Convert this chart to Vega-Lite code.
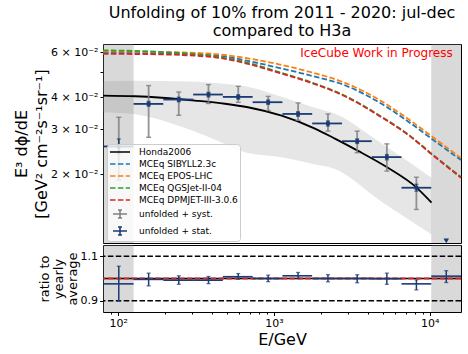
{
"$schema":"https://vega.github.io/schema/vega-lite/v6.json",
"background":"white",
"padding":{"left":12,"top":4,"right":7,"bottom":4},
"spacing":0,
"config":{
 "font":"DejaVu Sans",
 "view":{"stroke":"#000000","strokeWidth":1},
 "axis":{"labelFont":"DejaVu Sans","titleFont":"DejaVu Sans","labelFontSize":11,"titleFontSize":16,"titleFontWeight":"normal","labelColor":"#000000","titleColor":"#000000","tickColor":"#000000","tickWidth":1,"domain":false,"grid":false,"labelPadding":2}
},
"datasets":{
 "shade":[{"a":80,"b":125.7},{"a":10210,"b":15850}],
 "band":[
  {"E":80,"lo":0.03495,"hi":0.04614},{"E":128.5,"lo":0.0343,"hi":0.04635},{"E":250,"lo":0.0308,"hi":0.04614},
  {"E":418.5,"lo":0.02732,"hi":0.04546},{"E":681,"lo":0.02421,"hi":0.04394},{"E":1093,"lo":0.02336,"hi":0.04034},
  {"E":1781,"lo":0.02194,"hi":0.03655},{"E":2460,"lo":0.02098,"hi":0.03447},{"E":4776,"lo":0.01583,"hi":0.02672},
  {"E":10254,"lo":0.01169,"hi":0.0194}],
 "honda":[
  {"s":"Honda2006","E":80,"v":0.04059},{"s":"Honda2006","E":128.5,"v":0.04034},{"s":"Honda2006","E":190.6,"v":0.0398},
  {"s":"Honda2006","E":311.6,"v":0.03881},{"s":"Honda2006","E":485.3,"v":0.03772},{"s":"Honda2006","E":681.3,"v":0.03655},
  {"s":"Honda2006","E":1120,"v":0.03387},{"s":"Honda2006","E":1831,"v":0.03016},{"s":"Honda2006","E":2460,"v":0.02758},
  {"s":"Honda2006","E":3440,"v":0.02476},{"s":"Honda2006","E":5355,"v":0.02126},{"s":"Honda2006","E":8215,"v":0.01777},
  {"s":"Honda2006","E":10254,"v":0.01553}],
 "mceq":[
  {"s":"MCEq SIBYLL2.3c","E":80,"v":0.05957},{"s":"MCEq SIBYLL2.3c","E":186,"v":0.05931},{"s":"MCEq SIBYLL2.3c","E":418.5,"v":0.05823},
  {"s":"MCEq SIBYLL2.3c","E":681,"v":0.0554},{"s":"MCEq SIBYLL2.3c","E":1093,"v":0.05194},{"s":"MCEq SIBYLL2.3c","E":1701,"v":0.04864},
  {"s":"MCEq SIBYLL2.3c","E":2851,"v":0.04453},{"s":"MCEq SIBYLL2.3c","E":4776,"v":0.03806},{"s":"MCEq SIBYLL2.3c","E":7443,"v":0.03182},
  {"s":"MCEq SIBYLL2.3c","E":10254,"v":0.02757},{"s":"MCEq SIBYLL2.3c","E":15850,"v":0.02274},
  {"s":"MCEq EPOS-LHC","E":80,"v":0.06038},{"s":"MCEq EPOS-LHC","E":186,"v":0.06005},{"s":"MCEq EPOS-LHC","E":418.5,"v":0.05894},
  {"s":"MCEq EPOS-LHC","E":681,"v":0.05669},{"s":"MCEq EPOS-LHC","E":1093,"v":0.05361},{"s":"MCEq EPOS-LHC","E":1701,"v":0.05019},
  {"s":"MCEq EPOS-LHC","E":2851,"v":0.04552},{"s":"MCEq EPOS-LHC","E":4776,"v":0.03892},{"s":"MCEq EPOS-LHC","E":7443,"v":0.03254},
  {"s":"MCEq EPOS-LHC","E":10254,"v":0.0282},{"s":"MCEq EPOS-LHC","E":15850,"v":0.02315},
  {"s":"MCEq QGSJet-II-04","E":80,"v":0.06092},{"s":"MCEq QGSJet-II-04","E":186,"v":0.06005},{"s":"MCEq QGSJet-II-04","E":418.5,"v":0.05773},
  {"s":"MCEq QGSJet-II-04","E":681,"v":0.05446},{"s":"MCEq QGSJet-II-04","E":1093,"v":0.04997},{"s":"MCEq QGSJet-II-04","E":1701,"v":0.04589},
  {"s":"MCEq QGSJet-II-04","E":2851,"v":0.04052},{"s":"MCEq QGSJet-II-04","E":4776,"v":0.03388},{"s":"MCEq QGSJet-II-04","E":7443,"v":0.02832},
  {"s":"MCEq QGSJet-II-04","E":10254,"v":0.0241},{"s":"MCEq QGSJet-II-04","E":15850,"v":0.01952},
  {"s":"MCEq DPMJET-III-3.0.6","E":80,"v":0.05904},{"s":"MCEq DPMJET-III-3.0.6","E":186,"v":0.05877},{"s":"MCEq DPMJET-III-3.0.6","E":418.5,"v":0.0572},
  {"s":"MCEq DPMJET-III-3.0.6","E":681,"v":0.05397},{"s":"MCEq DPMJET-III-3.0.6","E":1093,"v":0.04966},{"s":"MCEq DPMJET-III-3.0.6","E":1701,"v":0.04569},
  {"s":"MCEq DPMJET-III-3.0.6","E":2851,"v":0.04034},{"s":"MCEq DPMJET-III-3.0.6","E":4776,"v":0.03373},{"s":"MCEq DPMJET-III-3.0.6","E":7443,"v":0.0282},
  {"s":"MCEq DPMJET-III-3.0.6","E":10254,"v":0.02399},{"s":"MCEq DPMJET-III-3.0.6","E":15850,"v":0.0194}],
 "main":[
  {"E":101,"Elo":81,"Ehi":125.7,"y":0.0257,"tl":0.024,"th":0.0275,"sl":0.019,"sh":0.0334},
  {"E":157,"Elo":125.7,"Ehi":195,"y":0.03766,"tl":0.0369,"th":0.0385,"sl":0.0279,"sh":0.0444},
  {"E":245,"Elo":195,"Ehi":303,"y":0.03917,"tl":0.0384,"th":0.04,"sl":0.034,"sh":0.0419},
  {"E":380,"Elo":303,"Ehi":470,"y":0.04097,"tl":0.0401,"th":0.0418,"sl":0.0378,"sh":0.0448},
  {"E":590,"Elo":470,"Ehi":730,"y":0.0401,"tl":0.0393,"th":0.0409,"sl":0.0382,"sh":0.0441},
  {"E":918,"Elo":730,"Ehi":1133,"y":0.03824,"tl":0.0375,"th":0.039,"sl":0.0355,"sh":0.0403},
  {"E":1428,"Elo":1133,"Ehi":1759,"y":0.03442,"tl":0.0337,"th":0.0351,"sl":0.0325,"sh":0.038},
  {"E":2220,"Elo":1759,"Ehi":2731,"y":0.0316,"tl":0.0309,"th":0.0323,"sl":0.0295,"sh":0.0344},
  {"E":3420,"Elo":2731,"Ehi":4240,"y":0.02695,"tl":0.0264,"th":0.0275,"sl":0.0243,"sh":0.0295},
  {"E":5300,"Elo":4240,"Ehi":6580,"y":0.02336,"tl":0.0228,"th":0.0239,"sl":0.0206,"sh":0.0263},
  {"E":8200,"Elo":6580,"Ehi":10210,"y":0.01774,"tl":0.0172,"th":0.0183,"sl":0.0146,"sh":0.0195}],
 "lim":[{"E":12750,"y":0.011}],
 "label":[{"E":14030,"v":0.0575,"t":"IceCube Work in Progress"}],
 "ratio":[
  {"E":101,"Elo":81,"Ehi":125.7,"r":0.976,"rl":0.899,"rh":1.055},
  {"E":157,"Elo":125.7,"Ehi":195,"r":0.996,"rl":0.967,"rh":1.024},
  {"E":245,"Elo":195,"Ehi":303,"r":0.9925,"rl":0.974,"rh":1.012},
  {"E":380,"Elo":303,"Ehi":470,"r":0.9925,"rl":0.977,"rh":1.009},
  {"E":590,"Elo":470,"Ehi":730,"r":1.008,"rl":0.997,"rh":1.022},
  {"E":918,"Elo":730,"Ehi":1133,"r":1.0,"rl":0.986,"rh":1.015},
  {"E":1428,"Elo":1133,"Ehi":1759,"r":1.012,"rl":1.0,"rh":1.027},
  {"E":2220,"Elo":1759,"Ehi":2731,"r":1.0,"rl":0.985,"rh":1.017},
  {"E":3420,"Elo":2731,"Ehi":4240,"r":1.0,"rl":0.981,"rh":1.017},
  {"E":5300,"Elo":4240,"Ehi":6580,"r":0.999,"rl":0.974,"rh":1.024},
  {"E":8200,"Elo":6580,"Ehi":10210,"r":0.976,"rl":0.949,"rh":0.994},
  {"E":12750,"Elo":10210,"Ehi":15850,"r":1.0105,"rl":0.982,"rh":1.035}],
 "refs":[{"h":0.9},{"h":1.1}],
 "unity":[{"h":1.0}]
},
"vconcat":[
 {
  "width":358,"height":199,
  "title":{"text":["Unfolding of 10% from 2011 - 2020: jul-dec","compared to H3a"],"fontSize":16,"fontWeight":"normal","font":"DejaVu Sans","color":"#000000","lineHeight":18.5,"offset":5,"anchor":"middle","frame":"group"},
  "layer":[
   {"data":{"name":"band"},"mark":{"type":"area","color":"gray","opacity":0.2,"interpolate":"monotone"},
    "encoding":{
     "x":{"field":"E","type":"quantitative","scale":{"type":"log","domain":[80,15850],"nice":false},"axis":null},
     "y":{"field":"lo","type":"quantitative","scale":{"type":"log","domain":[0.0108,0.0645],"nice":false},
      "axis":{"values":[0.02,0.03,0.04,0.05,0.06],"labelExpr":"['','','2 × 10⁻²','3 × 10⁻²','4 × 10⁻²','','6 × 10⁻²'][round(datum.value*100)]","tickSize":3,"title":["E³ dϕ/dE","[GeV² cm⁻²s⁻¹sr⁻¹]"],"titleX":-74,"titleY":99.5,"titleLineHeight":20,"titleFontSize":16}},
     "y2":{"field":"hi"}}},
   {"data":{"name":"shade"},"mark":{"type":"rect","color":"gray","opacity":0.3},
    "encoding":{
     "x":{"field":"a","type":"quantitative","scale":{"type":"log","domain":[80,15850],"nice":false},"axis":null},
     "x2":{"field":"b"}}},
   {"data":{"name":"honda"},"mark":{"type":"line","strokeWidth":1.8,"interpolate":"monotone"},
    "encoding":{
     "x":{"field":"E","type":"quantitative","scale":{"type":"log","domain":[80,15850],"nice":false},"axis":null},
     "y":{"field":"v","type":"quantitative","scale":{"type":"log","domain":[0.0108,0.0645],"nice":false}},
     "color":{"field":"s","type":"nominal",
      "scale":{"domain":["Honda2006","MCEq SIBYLL2.3c","MCEq EPOS-LHC","MCEq QGSJet-II-04","MCEq DPMJET-III-3.0.6","unfolded + syst.","unfolded + stat."],
               "range":["#000000","#1f77b4","#ff7f0e","#2ca02c","#d62728","#808080","#1b3c73"]},
      "legend":{"title":null,"orient":"none","legendX":4,"legendY":100,"fillColor":"rgba(255,255,255,0.8)","strokeColor":"#cccccc","cornerRadius":3,"padding":2,
       "labelFont":"DejaVu Sans","labelFontSize":9,"labelColor":"#000000","labelOffset":18,"rowPadding":1,"symbolSize":100,"symbolStrokeWidth":1.6,
       "encode":{"symbols":{"update":{
        "shape":{"signal":"indexof(datum.value,'unfolded')===0 ? 'M-0.4,0H2.4M1,-0.8V0.8M0.6,-0.8H1.4M0.6,0.8H1.4' : 'M-1,0H3'"},
        "strokeDash":{"signal":"indexof(datum.value,'MCEq')===0 ? [5.5,2.4] : [1,0]"},
        "fill":{"value":"transparent"}}}}}}}},
   {"data":{"name":"mceq"},"transform":[{"filter":"datum.s === 'MCEq SIBYLL2.3c'"}],"mark":{"type":"line","strokeWidth":1.8,"strokeDash":[5.5,2.4],"interpolate":"monotone"},
    "encoding":{
     "x":{"field":"E","type":"quantitative","scale":{"type":"log","domain":[80,15850],"nice":false},"axis":null},
     "y":{"field":"v","type":"quantitative","scale":{"type":"log","domain":[0.0108,0.0645],"nice":false}},
     "color":{"field":"s","type":"nominal"}}},
   {"data":{"name":"mceq"},"transform":[{"filter":"datum.s === 'MCEq EPOS-LHC'"}],"mark":{"type":"line","strokeWidth":1.8,"strokeDash":[5.5,2.4],"interpolate":"monotone"},
    "encoding":{
     "x":{"field":"E","type":"quantitative","scale":{"type":"log","domain":[80,15850],"nice":false},"axis":null},
     "y":{"field":"v","type":"quantitative","scale":{"type":"log","domain":[0.0108,0.0645],"nice":false}},
     "color":{"field":"s","type":"nominal"}}},
   {"data":{"name":"mceq"},"transform":[{"filter":"datum.s === 'MCEq QGSJet-II-04'"}],"mark":{"type":"line","strokeWidth":1.8,"strokeDash":[5.5,2.4],"interpolate":"monotone"},
    "encoding":{
     "x":{"field":"E","type":"quantitative","scale":{"type":"log","domain":[80,15850],"nice":false},"axis":null},
     "y":{"field":"v","type":"quantitative","scale":{"type":"log","domain":[0.0108,0.0645],"nice":false}},
     "color":{"field":"s","type":"nominal"}}},
   {"data":{"name":"mceq"},"transform":[{"filter":"datum.s === 'MCEq DPMJET-III-3.0.6'"}],"mark":{"type":"line","strokeWidth":1.8,"strokeDash":[5.5,2.4],"interpolate":"monotone"},
    "encoding":{
     "x":{"field":"E","type":"quantitative","scale":{"type":"log","domain":[80,15850],"nice":false},"axis":null},
     "y":{"field":"v","type":"quantitative","scale":{"type":"log","domain":[0.0108,0.0645],"nice":false}},
     "color":{"field":"s","type":"nominal"}}},
   {"data":{"name":"main"},"mark":{"type":"rule","color":"#808080","strokeWidth":1.8,"opacity":0.85},
    "encoding":{
     "x":{"field":"E","type":"quantitative","scale":{"type":"log","domain":[80,15850],"nice":false},"axis":null},
     "y":{"field":"sl","type":"quantitative","scale":{"type":"log","domain":[0.0108,0.0645],"nice":false}},
     "y2":{"field":"sh"}}},
   {"data":{"name":"main"},"transform":[{"fold":["sl","sh"],"as":["k","cv"]}],"mark":{"type":"tick","orient":"horizontal","color":"#808080","size":5,"thickness":1.4,"opacity":0.85},
    "encoding":{
     "x":{"field":"E","type":"quantitative","scale":{"type":"log","domain":[80,15850],"nice":false},"axis":null},
     "y":{"field":"cv","type":"quantitative","scale":{"type":"log","domain":[0.0108,0.0645],"nice":false}}}},
   {"data":{"name":"main"},"mark":{"type":"rule","color":"#1b3c73","strokeWidth":1.8},
    "encoding":{
     "x":{"field":"Elo","type":"quantitative","scale":{"type":"log","domain":[80,15850],"nice":false},"axis":null},
     "x2":{"field":"Ehi"},
     "y":{"field":"y","type":"quantitative","scale":{"type":"log","domain":[0.0108,0.0645],"nice":false}}}},
   {"data":{"name":"main"},"mark":{"type":"rule","color":"#1b3c73","strokeWidth":1.5},
    "encoding":{
     "x":{"field":"E","type":"quantitative","scale":{"type":"log","domain":[80,15850],"nice":false},"axis":null},
     "y":{"field":"tl","type":"quantitative","scale":{"type":"log","domain":[0.0108,0.0645],"nice":false}},
     "y2":{"field":"th"}}},
   {"data":{"name":"main"},"transform":[{"fold":["tl","th"],"as":["k","cv"]}],"mark":{"type":"tick","orient":"horizontal","color":"#1b3c73","size":4,"thickness":1.3},
    "encoding":{
     "x":{"field":"E","type":"quantitative","scale":{"type":"log","domain":[80,15850],"nice":false},"axis":null},
     "y":{"field":"cv","type":"quantitative","scale":{"type":"log","domain":[0.0108,0.0645],"nice":false}}}},
   {"data":{"name":"main"},"mark":{"type":"point","shape":"square","filled":true,"size":14,"color":"#1b3c73","opacity":1},
    "encoding":{
     "x":{"field":"E","type":"quantitative","scale":{"type":"log","domain":[80,15850],"nice":false},"axis":null},
     "y":{"field":"y","type":"quantitative","scale":{"type":"log","domain":[0.0108,0.0645],"nice":false}}}},
   {"data":{"name":"lim"},"mark":{"type":"point","shape":"triangle-down","filled":true,"size":30,"color":"#1b3c73","opacity":1},
    "encoding":{
     "x":{"field":"E","type":"quantitative","scale":{"type":"log","domain":[80,15850],"nice":false},"axis":null},
     "y":{"field":"y","type":"quantitative","scale":{"type":"log","domain":[0.0108,0.0645],"nice":false}}}},
   {"data":{"name":"label"},"mark":{"type":"text","align":"right","baseline":"alphabetic","fontSize":12,"color":"#ff0000","font":"DejaVu Sans"},
    "encoding":{
     "x":{"field":"E","type":"quantitative","scale":{"type":"log","domain":[80,15850],"nice":false},"axis":null},
     "y":{"field":"v","type":"quantitative","scale":{"type":"log","domain":[0.0108,0.0645],"nice":false}},
     "text":{"field":"t"}}}
  ]
 },
 {
  "width":358,"height":67,
  "resolve":{"axis":{"x":"independent"}},
  "layer":[
   {"data":{"name":"shade"},"mark":{"type":"rect","color":"gray","opacity":0.3},
    "encoding":{
     "x":{"field":"a","type":"quantitative","scale":{"type":"log","domain":[80,15850],"nice":false},
      "axis":{"values":[90,200,300,400,500,600,700,800,900,2000,3000,4000,5000,6000,7000,8000,9000],"labels":false,"tickSize":2,"title":null,"orient":"bottom"}},
     "x2":{"field":"b"}}},
   {"layer":[
    {"data":{"name":"refs"},"mark":{"type":"rule","color":"#000000","strokeWidth":1.5,"strokeDash":[5.5,2.4]},
     "encoding":{"y":{"field":"h","type":"quantitative","scale":{"domain":[0.85,1.15],"nice":false,"zero":false},
      "axis":{"values":[0.9,1.0,1.1],"format":".1f","tickSize":3.5,"title":["ratio to","yearly","average"],"titleFontSize":13,"titleLineHeight":14,"titleX":-52,"titleY":33.5}}}},
    {"data":{"name":"unity"},"mark":{"type":"rule","color":"#000000","strokeWidth":1.5},
     "encoding":{"y":{"field":"h","type":"quantitative","scale":{"domain":[0.85,1.15],"nice":false,"zero":false}}}},
    {"data":{"name":"unity"},"mark":{"type":"rule","color":"#d62728","strokeWidth":2,"strokeDash":[5.5,2.4]},
     "encoding":{"y":{"field":"h","type":"quantitative","scale":{"domain":[0.85,1.15],"nice":false,"zero":false}}}},
    {"data":{"name":"ratio"},"mark":{"type":"rule","color":"#1b3c73","strokeWidth":1.6},
     "encoding":{
      "x":{"field":"Elo","type":"quantitative","scale":{"type":"log","domain":[80,15850],"nice":false},
       "axis":{"values":[100,1000,10000],"labelExpr":"datum.value < 500 ? '10²' : datum.value < 5000 ? '10³' : '10⁴'","tickSize":3.5,"title":"E/GeV","titleFontSize":16,"titlePadding":3,"orient":"bottom","labelPadding":2}},
      "x2":{"field":"Ehi"},
      "y":{"field":"r","type":"quantitative","scale":{"domain":[0.85,1.15],"nice":false,"zero":false}}}},
    {"data":{"name":"ratio"},"mark":{"type":"rule","color":"#1b3c73","strokeWidth":1.5},
     "encoding":{
      "x":{"field":"E","type":"quantitative","scale":{"type":"log","domain":[80,15850],"nice":false}},
      "y":{"field":"rl","type":"quantitative","scale":{"domain":[0.85,1.15],"nice":false,"zero":false}},
      "y2":{"field":"rh"}}},
    {"data":{"name":"ratio"},"transform":[{"fold":["rl","rh"],"as":["k","cv"]}],"mark":{"type":"tick","orient":"horizontal","color":"#1b3c73","size":4,"thickness":1.3},
     "encoding":{
      "x":{"field":"E","type":"quantitative","scale":{"type":"log","domain":[80,15850],"nice":false}},
      "y":{"field":"cv","type":"quantitative","scale":{"domain":[0.85,1.15],"nice":false,"zero":false}}}}
   ]}
  ]
 }
]
}
